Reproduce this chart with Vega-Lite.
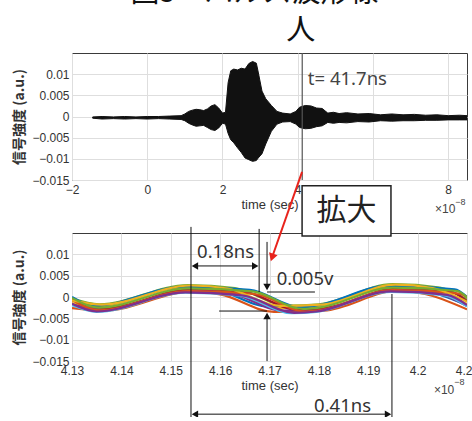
{
  "$schema": "https://vega.github.io/schema/vega-lite/v6.json",
  "background": "white",
  "padding": {"left": 12, "top": -22, "right": -8, "bottom": -4},
  "bounds": "flush",
  "spacing": 53,
  "config": {
    "view": {"stroke": "#3a3a3a", "strokeWidth": 1},
    "axis": {"grid": true, "gridColor": "#dedede", "gridWidth": 1, "ticks": false, "domain": false, "labelFlush": false,
      "labelFont": "Liberation Sans", "labelFontSize": 12, "labelColor": "#333", "labelPadding": 4,
      "titleFont": "Liberation Sans", "titleFontSize": 13, "titleFontWeight": "normal", "titleColor": "#333", "titlePadding": 3},
    "axisY": {"titleFont": "Noto Sans CJK JP", "titleFontSize": 14, "titleFontWeight": "bold", "titlePadding": 5, "labelPadding": 3}
  },
  "datasets": {
    "env": [
      {"t": -1.45, "v": -0.0001, "v2": -0.0004},
      {"t": -1.2, "v": 0.0, "v2": -0.0006},
      {"t": -0.9, "v": -0.0001, "v2": -0.0005},
      {"t": -0.6, "v": 0.0, "v2": -0.0006},
      {"t": -0.3, "v": -0.0001, "v2": -0.0005},
      {"t": 0.0, "v": 0.0, "v2": -0.0006},
      {"t": 0.3, "v": 0.0, "v2": -0.0005},
      {"t": 0.6, "v": 0.0001, "v2": -0.0006},
      {"t": 0.9, "v": 0.0002, "v2": -0.0007},
      {"t": 1.0, "v": 0.0006, "v2": -0.001},
      {"t": 1.1, "v": 0.0012, "v2": -0.0016},
      {"t": 1.2, "v": 0.0015, "v2": -0.002},
      {"t": 1.3, "v": 0.0017, "v2": -0.0023},
      {"t": 1.4, "v": 0.0016, "v2": -0.0022},
      {"t": 1.5, "v": 0.0014, "v2": -0.0021},
      {"t": 1.6, "v": 0.0018, "v2": -0.0026},
      {"t": 1.7, "v": 0.0025, "v2": -0.0031},
      {"t": 1.8, "v": 0.0028, "v2": -0.0033},
      {"t": 1.9, "v": 0.002, "v2": -0.0027},
      {"t": 2.0, "v": 0.0008, "v2": -0.0016},
      {"t": 2.08, "v": 0.001, "v2": -0.0018},
      {"t": 2.15, "v": 0.008, "v2": -0.004},
      {"t": 2.22, "v": 0.0108, "v2": -0.0055},
      {"t": 2.3, "v": 0.0112, "v2": -0.0062},
      {"t": 2.4, "v": 0.011, "v2": -0.0074},
      {"t": 2.5, "v": 0.0114, "v2": -0.0085},
      {"t": 2.6, "v": 0.0112, "v2": -0.0098},
      {"t": 2.7, "v": 0.0125, "v2": -0.0102},
      {"t": 2.8, "v": 0.013, "v2": -0.0106},
      {"t": 2.9, "v": 0.0126, "v2": -0.0104},
      {"t": 2.95, "v": 0.0105, "v2": -0.0098},
      {"t": 3.05, "v": 0.006, "v2": -0.0088},
      {"t": 3.15, "v": 0.0042, "v2": -0.0065},
      {"t": 3.3, "v": 0.0026, "v2": -0.0035},
      {"t": 3.45, "v": 0.0012, "v2": -0.0018},
      {"t": 3.6, "v": 0.0008, "v2": -0.0013},
      {"t": 3.8, "v": 0.0006, "v2": -0.0012},
      {"t": 3.95, "v": 0.0012, "v2": -0.0018},
      {"t": 4.05, "v": 0.0022, "v2": -0.0026},
      {"t": 4.2, "v": 0.0026, "v2": -0.0029},
      {"t": 4.35, "v": 0.0025, "v2": -0.0028},
      {"t": 4.5, "v": 0.002, "v2": -0.0024},
      {"t": 4.65, "v": 0.0019, "v2": -0.0022},
      {"t": 4.8, "v": 0.0008, "v2": -0.0014},
      {"t": 4.95, "v": 0.001, "v2": -0.0016},
      {"t": 5.1, "v": 0.0007, "v2": -0.0014},
      {"t": 5.3, "v": 0.0009, "v2": -0.0015},
      {"t": 5.6, "v": 0.0006, "v2": -0.0012},
      {"t": 5.9, "v": 0.0007, "v2": -0.0013},
      {"t": 6.2, "v": 0.0004, "v2": -0.001},
      {"t": 6.5, "v": 0.0006, "v2": -0.0011},
      {"t": 6.8, "v": 0.0004, "v2": -0.001},
      {"t": 7.1, "v": 0.0005, "v2": -0.001},
      {"t": 7.4, "v": 0.0003, "v2": -0.0009},
      {"t": 7.7, "v": 0.0004, "v2": -0.0009},
      {"t": 8.0, "v": 0.0002, "v2": -0.0008},
      {"t": 8.3, "v": 0.0003, "v2": -0.0008},
      {"t": 8.5, "v": 0.0002, "v2": -0.0008}
    ],
    "traces": [
      {"run": "r1", "t": 4.13, "v": -0.0016}, {"run": "r1", "t": 4.1355, "v": -0.002}, {"run": "r1", "t": 4.1535, "v": 0.0025}, {"run": "r1", "t": 4.159, "v": 0.0018}, {"run": "r1", "t": 4.17, "v": -0.0023}, {"run": "r1", "t": 4.18, "v": -0.002}, {"run": "r1", "t": 4.195, "v": 0.0027}, {"run": "r1", "t": 4.2005, "v": 0.0019}, {"run": "r1", "t": 4.21, "v": -0.0019},
      {"run": "r2", "t": 4.13, "v": -0.0026}, {"run": "r2", "t": 4.1365, "v": -0.0032}, {"run": "r2", "t": 4.1545, "v": 0.0013}, {"run": "r2", "t": 4.16, "v": 0.0006}, {"run": "r2", "t": 4.1709, "v": -0.0035}, {"run": "r2", "t": 4.181, "v": -0.0032}, {"run": "r2", "t": 4.196, "v": 0.0015}, {"run": "r2", "t": 4.2015, "v": 0.0007}, {"run": "r2", "t": 4.21, "v": -0.0029},
      {"run": "r3", "t": 4.13, "v": -0.0014}, {"run": "r3", "t": 4.1345, "v": -0.0023}, {"run": "r3", "t": 4.1525, "v": 0.0022}, {"run": "r3", "t": 4.161, "v": 0.0015}, {"run": "r3", "t": 4.1718, "v": -0.0026}, {"run": "r3", "t": 4.179, "v": -0.0023}, {"run": "r3", "t": 4.194, "v": 0.0024}, {"run": "r3", "t": 4.2025, "v": 0.0016}, {"run": "r3", "t": 4.21, "v": -0.0017},
      {"run": "r4", "t": 4.13, "v": -0.0018}, {"run": "r4", "t": 4.136, "v": -0.0029}, {"run": "r4", "t": 4.154, "v": 0.0016}, {"run": "r4", "t": 4.162, "v": 0.0009}, {"run": "r4", "t": 4.1727, "v": -0.0032}, {"run": "r4", "t": 4.1805, "v": -0.0029}, {"run": "r4", "t": 4.1955, "v": 0.0018}, {"run": "r4", "t": 4.2035, "v": 0.001}, {"run": "r4", "t": 4.21, "v": -0.0021},
      {"run": "r5", "t": 4.13, "v": -0.0003}, {"run": "r5", "t": 4.1355, "v": -0.0017}, {"run": "r5", "t": 4.1535, "v": 0.0028}, {"run": "r5", "t": 4.163, "v": 0.0021}, {"run": "r5", "t": 4.1736, "v": -0.002}, {"run": "r5", "t": 4.18, "v": -0.0017}, {"run": "r5", "t": 4.195, "v": 0.003}, {"run": "r5", "t": 4.2045, "v": 0.0022}, {"run": "r5", "t": 4.21, "v": -0.0006},
      {"run": "r6", "t": 4.13, "v": -0.0019}, {"run": "r6", "t": 4.135, "v": -0.0035}, {"run": "r6", "t": 4.153, "v": 0.001}, {"run": "r6", "t": 4.164, "v": 0.0003}, {"run": "r6", "t": 4.1745, "v": -0.0038}, {"run": "r6", "t": 4.1795, "v": -0.0035}, {"run": "r6", "t": 4.1945, "v": 0.0012}, {"run": "r6", "t": 4.2055, "v": 0.0004}, {"run": "r6", "t": 4.21, "v": -0.0022},
      {"run": "r7", "t": 4.13, "v": -0.0007}, {"run": "r7", "t": 4.1365, "v": -0.0026}, {"run": "r7", "t": 4.1545, "v": 0.0019}, {"run": "r7", "t": 4.165, "v": 0.0012}, {"run": "r7", "t": 4.1754, "v": -0.0029}, {"run": "r7", "t": 4.181, "v": -0.0026}, {"run": "r7", "t": 4.196, "v": 0.0021}, {"run": "r7", "t": 4.2065, "v": 0.0013}, {"run": "r7", "t": 4.21, "v": -0.001},
      {"run": "r8", "t": 4.13, "v": 0.0}, {"run": "r8", "t": 4.1345, "v": -0.0021}, {"run": "r8", "t": 4.1525, "v": 0.0024}, {"run": "r8", "t": 4.166, "v": 0.0017}, {"run": "r8", "t": 4.1763, "v": -0.0024}, {"run": "r8", "t": 4.179, "v": -0.0021}, {"run": "r8", "t": 4.194, "v": 0.0026}, {"run": "r8", "t": 4.2075, "v": 0.0018}, {"run": "r8", "t": 4.21, "v": 0.0},
      {"run": "r9", "t": 4.13, "v": -0.0007}, {"run": "r9", "t": 4.1355, "v": -0.0031}, {"run": "r9", "t": 4.1535, "v": 0.0014}, {"run": "r9", "t": 4.167, "v": 0.0007}, {"run": "r9", "t": 4.1772, "v": -0.0034}, {"run": "r9", "t": 4.18, "v": -0.0031}, {"run": "r9", "t": 4.195, "v": 0.0016}, {"run": "r9", "t": 4.2085, "v": 0.0008}, {"run": "r9", "t": 4.21, "v": 0.0},
      {"run": "r10", "t": 4.13, "v": -0.0008}, {"run": "r10", "t": 4.136, "v": -0.0018}, {"run": "r10", "t": 4.154, "v": 0.0027}, {"run": "r10", "t": 4.1615, "v": 0.002}, {"run": "r10", "t": 4.1722, "v": -0.0021}, {"run": "r10", "t": 4.1805, "v": -0.0018}, {"run": "r10", "t": 4.1955, "v": 0.0029}, {"run": "r10", "t": 4.203, "v": 0.0021}, {"run": "r10", "t": 4.21, "v": -0.0011},
      {"run": "r11", "t": 4.13, "v": -0.0016}, {"run": "r11", "t": 4.135, "v": -0.0034}, {"run": "r11", "t": 4.153, "v": 0.0011}, {"run": "r11", "t": 4.1645, "v": 0.0004}, {"run": "r11", "t": 4.175, "v": -0.0037}, {"run": "r11", "t": 4.1795, "v": -0.0034}, {"run": "r11", "t": 4.1945, "v": 0.0013}, {"run": "r11", "t": 4.206, "v": 0.0005}, {"run": "r11", "t": 4.21, "v": -0.0019},
      {"run": "r12", "t": 4.13, "v": -0.0002}, {"run": "r12", "t": 4.1355, "v": -0.0025}, {"run": "r12", "t": 4.1535, "v": 0.002}, {"run": "r12", "t": 4.1665, "v": 0.0013}, {"run": "r12", "t": 4.1768, "v": -0.0028}, {"run": "r12", "t": 4.18, "v": -0.0025}, {"run": "r12", "t": 4.195, "v": 0.0022}, {"run": "r12", "t": 4.208, "v": 0.0014}, {"run": "r12", "t": 4.21, "v": -0.0001}
    ],
    "bRules": [
      {"t": 4.1541, "t2": 4.1541, "v": 0.01643, "v2": -0.0288},
      {"t": 4.1679, "t2": 4.1679, "v": 0.01596, "v2": 0.00117},
      {"t": 4.1695, "t2": 4.1695, "v": 0.01291, "v2": 0.00235},
      {"t": 4.1695, "t2": 4.1695, "v": -0.00446, "v2": -0.01502},
      {"t": 4.1695, "t2": 4.1792, "v": 0.00117, "v2": 0.00117},
      {"t": 4.1598, "t2": 4.1695, "v": -0.00329, "v2": -0.00329},
      {"t": 4.1549, "t2": 4.1671, "v": 0.00728, "v2": 0.00728},
      {"t": 4.1549, "t2": 4.194, "v": -0.02746, "v2": -0.02746},
      {"t": 4.1948, "t2": 4.1948, "v": 0.0007, "v2": -0.0288}
    ],
    "bHeads": [
      {"t": 4.1549, "v": 0.00728, "dir": "left"},
      {"t": 4.1671, "v": 0.00728, "dir": "right"},
      {"t": 4.1695, "v": 0.00235, "dir": "down"},
      {"t": 4.1695, "v": -0.00446, "dir": "up"},
      {"t": 4.1549, "v": -0.02746, "dir": "left"},
      {"t": 4.194, "v": -0.02746, "dir": "right"}
    ]
  },
  "vconcat": [
    {
      "width": 395,
      "height": 127,
      "encoding": {
        "x": {"field": "t", "type": "quantitative", "scale": {"domain": [-2, 8.5], "nice": false, "zero": false},
          "axis": {"values": [-2, 0, 2, 4, 6, 8], "format": ".4~g", "title": "time (sec)"}},
        "y": {"field": "v", "type": "quantitative", "scale": {"domain": [-0.015, 0.015], "nice": false, "zero": false},
          "axis": {"values": [-0.015, -0.01, -0.005, 0, 0.005, 0.01], "format": ".4~g", "title": "信号強度 (a.u.)"}}
      },
      "layer": [
        {"data": {"name": "env"}, "mark": {"type": "area", "color": "#111", "stroke": "#111", "strokeWidth": 1, "clip": true},
          "encoding": {"y2": {"field": "v2"}}},
        {"data": {"values": [{"t": 4.12, "v": -0.015, "v2": 0.015}]}, "mark": {"type": "rule", "color": "#555", "strokeWidth": 1.2},
          "encoding": {"y2": {"field": "v2"}}},
        {"data": {"values": [{"t": 4.27, "v": 0.00884, "label": "t= 41.7ns"}]},
          "mark": {"type": "text", "font": "Noto Sans", "fontSize": 18.5, "color": "#444", "align": "left", "baseline": "middle"},
          "encoding": {"text": {"field": "label"}}},
        {"data": {"values": [{"t": 2.853, "v": 0.027, "label": "図5　パルス波形様"}, {"t": 4.08, "v": 0.01804, "label": "人"}]},
          "mark": {"type": "text", "font": "Noto Sans CJK JP", "fontSize": 29, "color": "#111", "align": "center", "baseline": "alphabetic"},
          "encoding": {"text": {"field": "label"}}},
        {"data": {"values": [{"t": 7.65, "v": -0.02193, "label": "×10"}]},
          "mark": {"type": "text", "font": "Liberation Sans", "fontSize": 12, "color": "#444", "align": "left", "baseline": "middle"},
          "encoding": {"text": {"field": "label"}}},
        {"data": {"values": [{"t": 8.187, "v": -0.02017, "label": "−8"}]},
          "mark": {"type": "text", "font": "Liberation Sans", "fontSize": 9, "color": "#444", "align": "left", "baseline": "middle"},
          "encoding": {"text": {"field": "label"}}}
      ]
    },
    {
      "width": 395,
      "height": 128,
      "encoding": {
        "x": {"field": "t", "type": "quantitative", "scale": {"domain": [4.13, 4.21], "nice": false, "zero": false},
          "axis": {"values": [4.13, 4.14, 4.15, 4.16, 4.17, 4.18, 4.19, 4.2, 4.21], "format": ".4~g", "title": "time (sec)"}},
        "y": {"field": "v", "type": "quantitative", "scale": {"domain": [-0.015, 0.015], "nice": false, "zero": false},
          "axis": {"values": [-0.015, -0.01, -0.005, 0, 0.005, 0.01], "format": ".4~g", "title": "信号強度 (a.u.)"}}
      },
      "layer": [
        {"data": {"name": "traces"}, "mark": {"type": "line", "interpolate": "monotone", "strokeWidth": 2.2, "clip": true},
          "encoding": {"color": {"field": "run", "type": "nominal", "legend": null,
            "scale": {"domain": ["r1","r2","r3","r4","r5","r6","r7","r8","r9","r10","r11","r12"],
              "range": ["#0072BD","#D95319","#EDB120","#7E2F8E","#77AC30","#4DBEEE","#A2142F","#0072BD","#D95319","#EDB120","#7E2F8E","#77AC30"]}}}},
        {"data": {"name": "bRules"}, "mark": {"type": "rule", "color": "#111", "strokeWidth": 1},
          "encoding": {"x2": {"field": "t2"}, "y2": {"field": "v2"}}},
        {"data": {"name": "bHeads"}, "mark": {"type": "point", "filled": true, "color": "#111", "opacity": 1, "size": 55},
          "encoding": {"shape": {"field": "dir", "type": "nominal", "legend": null,
            "scale": {"domain": ["left", "right", "up", "down"], "range": ["triangle-left", "triangle-right", "triangle-up", "triangle-down"]}}}},
        {"data": {"values": [{"t": 4.1766, "v": 0.02934, "t2": 4.1706, "v2": 0.00955}]}, "mark": {"type": "rule", "color": "#e8231c", "strokeWidth": 2},
          "encoding": {"x2": {"field": "t2"}, "y2": {"field": "v2"}}},
        {"data": {"values": [{"t": 4.1706, "v": 0.00955}]}, "mark": {"type": "point", "shape": "triangle", "angle": 199, "filled": true, "color": "#e8231c", "opacity": 1, "size": 80},
          "encoding": {}},
        {"data": {"values": [{"t": 4.1766, "t2": 4.1946, "v": 0.02606, "v2": 0.01432}]}, "mark": {"type": "rect", "fill": "white", "stroke": "#222", "strokeWidth": 1.5},
          "encoding": {"x2": {"field": "t2"}, "y2": {"field": "v2"}}},
        {"data": {"values": [{"t": 4.1856, "v": 0.02019, "label": "拡大"}]},
          "mark": {"type": "text", "font": "Noto Sans CJK JP", "fontSize": 30, "color": "#222", "align": "center", "baseline": "middle"},
          "encoding": {"text": {"field": "label"}}},
        {"data": {"values": [{"t": 4.1611, "v": 0.01056, "label": "0.18ns"}, {"t": 4.1772, "v": 0.00423, "label": "0.005v"}, {"t": 4.1848, "v": -0.02559, "label": "0.41ns"}]},
          "mark": {"type": "text", "font": "Noto Sans", "fontSize": 18.5, "color": "#333", "align": "center", "baseline": "middle"},
          "encoding": {"text": {"field": "label"}}},
        {"data": {"values": [{"t": 4.2033, "v": -0.02176, "label": "×10"}]},
          "mark": {"type": "text", "font": "Liberation Sans", "fontSize": 12, "color": "#444", "align": "left", "baseline": "middle"},
          "encoding": {"text": {"field": "label"}}},
        {"data": {"values": [{"t": 4.2074, "v": -0.01995, "label": "−8"}]},
          "mark": {"type": "text", "font": "Liberation Sans", "fontSize": 9, "color": "#444", "align": "left", "baseline": "middle"},
          "encoding": {"text": {"field": "label"}}}
      ]
    }
  ]
}
